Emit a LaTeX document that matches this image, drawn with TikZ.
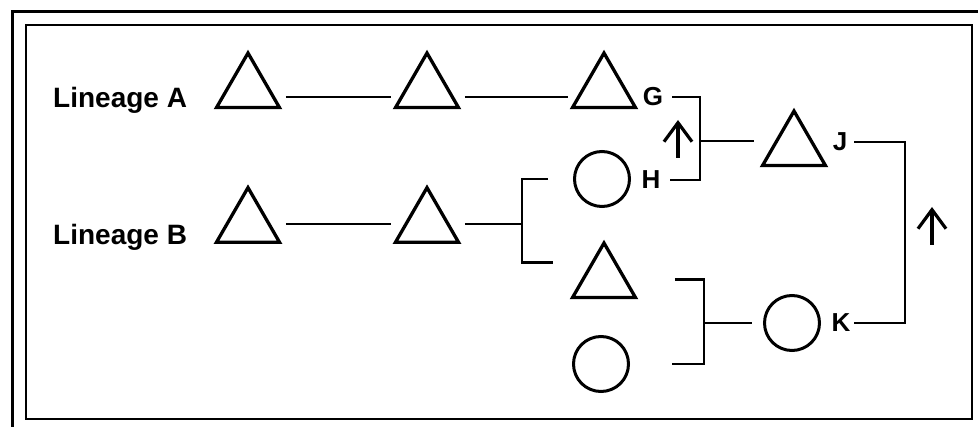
\documentclass[tikz,border=0pt]{standalone}
\usepackage{fontspec}
\setmainfont{Liberation Sans}
\usetikzlibrary{shapes.geometric,arrows.meta}
\begin{document}
\begin{tikzpicture}[
    x=1pt, y=-1pt,
    tri/.style={regular polygon, regular polygon sides=3, draw, minimum size=72.7pt, inner sep=0pt, line width=3.3pt},
    circ/.style={circle, draw, minimum size=55pt, inner sep=0pt, line width=3pt},
    letter/.style={inner sep=0pt, font=\fontsize{26}{28}\selectfont\bfseries},
    lineage/.style={inner sep=0pt, anchor=base west, font=\fontsize{28}{30}\selectfont\bfseries},
    link/.style={line width=2.8pt},
    arr/.style={line width=3.2pt, -{Straight Barb[length=19pt, width=28pt]}},
    frame/.style={line width=2.2pt}
]
\useasboundingbox (0,0) rectangle (978,427);
% frames
\draw[frame, line width=3pt] (978,12) -- (12,12) -- (12,427);
\draw[frame] (26,25) rectangle (972,419);
% lineage A
\node[lineage] (la) at (53,108) {Lineage A};
\node[tri] (a1) at (248,89.4) {};
\node[tri] (a2) at (427,89.4) {};
\node[tri] (g) at (604,89.4) {};
\node[letter] (lg) at (653,97) {G};
% lineage B
\node[lineage] (lb) at (53,245) {Lineage B};
\node[tri] (b1) at (248,224) {};
\node[tri] (b2) at (427,224) {};
\node[circ] (h) at (602,179) {};
\node[letter] (lh) at (651,180) {H};
\node[tri] (b3) at (604,279.4) {};
\node[circ] (b4) at (601,364) {};
% offspring
\node[tri] (j) at (794,147.4) {};
\node[letter] (lj) at (840,142) {J};
\node[circ] (k) at (792,323) {};
\node[letter] (lk) at (841,323) {K};
% forks
\coordinate (fB) at (522,224);
\coordinate (fGH) at (700,141);
\coordinate (fK) at (704,323);
\coordinate (fJK) at (905,232);
% lines
\draw[link, shorten <=15pt, shorten >=13pt] ([yshift=-7.6pt]a1.east) -- ([yshift=-7.6pt]a2.west);
\draw[link, shorten <=15pt, shorten >=13pt] ([yshift=-7.6pt]a2.east) -- ([yshift=-7.6pt]g.west);
\draw[link, shorten <=15pt, shorten >=13pt] (b1.east) -- (b2.west);
\draw[link, shorten <=15pt] (b2.east) -- (fB);
\draw[link, shorten <=25pt, shorten >=28pt] (h.west) -| (fB) |- ([yshift=17pt]b3.west);
\draw[link, shorten <=48pt, shorten >=42pt] (b3.east) -| (fK) |- (b4.east);
\draw[link, shorten >=11pt] (fK) -- (k);
\draw[link, shorten <=9pt, shorten >=9pt] (lg.east) -| (fGH) |- (lh.east);
\draw[link, shorten >=17pt] (fGH) -- (fGH -| j.west);
\draw[link, shorten <=7pt, shorten >=3pt] (lj.east) -| (fJK) |- (lk.east);
% arrows
\coordinate (upGH) at (678,158);
\coordinate (upJK) at (932,245);
\draw[arr] (upGH) -- ++(0,-38);
\draw[arr] (upJK) -- ++(0,-38);
\end{tikzpicture}
\end{document}
